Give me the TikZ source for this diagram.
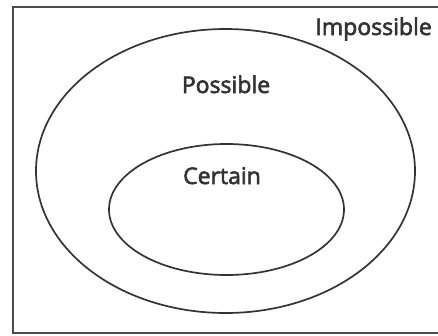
\documentclass[tikz,border=0pt]{standalone}
\usepackage{fontspec}
\setmainfont{Open Sans}
\newfontfamily\labelfont[FakeBold=2.6]{Open Sans}
\usepackage{tikz}
\usetikzlibrary{positioning}
\definecolor{inkgray}{HTML}{333333}

\begin{document}
\begin{tikzpicture}[x=1pt,y=-1pt,font=\labelfont\fontsize{23}{28}\selectfont,
  setline/.style={line width=1.7pt,draw=inkgray},
  setlabel/.style={text=inkgray,inner sep=0pt,anchor=base}]
\useasboundingbox (0,0) rectangle (438,335);
\draw[setline,line width=1.4pt,draw=black!70] (438,7) -- (13,7) -- (13,333) -- (438,333);
\draw[setline] (225.5,171) ellipse (189.5 and 142);
\draw[setline] (226.5,209.5) ellipse (117.5 and 65.5);
\node[setlabel,anchor=base east] (impossible) at (432,35) {Impossible};
\node[setlabel] (possible) at (226,93) {Possible};
\node[setlabel] (certain) at (222,184) {Certain};
\end{tikzpicture}
\end{document}
